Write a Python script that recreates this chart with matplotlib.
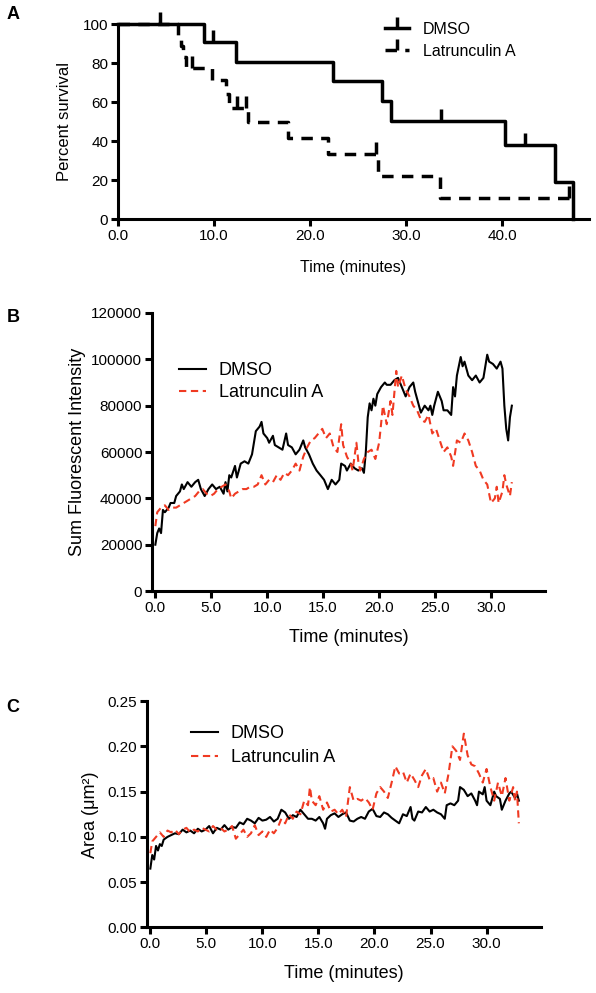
import numpy as np
import matplotlib
matplotlib.use('Agg')
import matplotlib.pyplot as plt
from matplotlib.path import Path
from matplotlib.lines import Line2D

plt.rcParams['font.family'] = ['Liberation Sans', 'DejaVu Sans']

# ---- panel A: Kaplan-Meier steps
km_dmso_t = [0, 9.0, 12.3, 22.4, 27.5, 28.4, 40.3, 45.5, 47.4]
km_dmso_s = [100, 90.9, 80.8, 70.7, 60.6, 50.5, 37.9, 18.9, 0]
cens_dmso_t = [4.4, 9.9, 33.6, 42.4]
cens_dmso_s = [100, 90.9, 50.5, 37.9]

km_lat_t = [0, 6.28, 6.56, 6.77, 7.05, 9.76, 11.2, 11.56, 13.57, 17.74, 21.9, 27.1, 33.5, 46.9]
km_lat_s = [100, 94.4, 88.9, 83.3, 77.8, 71.4, 64.3, 57.1, 50.0, 41.7, 33.3, 22.2, 11.1, 11.1]
cens_lat_t = [7.7, 12.36, 13.3, 26.9, 46.9]
cens_lat_s = [77.8, 57.1, 57.1, 33.3, 11.1]

# ---- panel B: sum fluorescent intensity
b_dmso_t = [0.0, 0.17, 0.34, 0.51, 0.68, 0.85, 1.19, 1.36, 1.69, 1.86, 2.2, 2.37, 2.54, 2.88,
            3.22, 3.56, 3.83, 4.07, 4.41, 4.75, 5.08, 5.42, 5.76, 6.1, 6.27, 6.44, 6.61, 6.78,
            7.12, 7.29, 7.46, 7.63, 7.97, 8.31, 8.64, 8.98, 9.32, 9.49, 9.66, 10.0, 10.17, 10.51,
            10.68, 11.02, 11.36, 11.69, 11.86, 12.2, 12.54, 12.88, 13.22, 13.39, 13.73, 14.07,
            14.41, 14.75, 15.08, 15.42, 15.76, 16.1, 16.44, 16.61, 16.95, 17.12, 17.46, 17.8,
            18.14, 18.47, 18.64, 18.81, 18.98, 19.15, 19.32, 19.49, 19.66, 19.83, 20.17, 20.51,
            20.68, 21.02, 21.36, 21.69, 21.86, 22.2, 22.37, 22.71, 23.05, 23.22, 23.56, 23.73,
            24.07, 24.41, 24.58, 24.75, 24.92, 25.25, 25.59, 25.76, 26.1, 26.44, 26.61, 26.78,
            26.95, 27.29, 27.46, 27.63, 27.97, 28.31, 28.64, 28.98, 29.32, 29.49, 29.66, 29.83,
            30.17, 30.51, 30.85, 31.02, 31.19, 31.36, 31.53, 31.69, 31.86]
b_dmso_v = [20000, 25000, 27000, 25000, 35000, 34000, 36000, 38000, 38000, 41000, 43000, 46000,
            44000, 47000, 45000, 47000, 48000, 44000, 41000, 44000, 46000, 44000, 45000, 42000,
            47000, 43000, 50000, 49000, 54000, 49000, 52000, 55000, 56000, 55000, 59000, 69000,
            71000, 73000, 68000, 66000, 64000, 67000, 63000, 62000, 61000, 68000, 63000, 62000,
            59000, 61000, 65000, 62000, 59000, 55000, 52000, 50000, 48000, 44000, 48000, 46000,
            48000, 55000, 54000, 52000, 55000, 53000, 52000, 53000, 51000, 60000, 75000, 81000,
            78000, 83000, 80000, 85000, 88000, 90000, 89000, 89000, 91000, 92000, 90000, 86000,
            84000, 88000, 90000, 86000, 80000, 77000, 80000, 78000, 80000, 76000, 80000, 86000,
            82000, 78000, 78000, 76000, 88000, 84000, 93000, 101000, 97000, 99000, 93000, 91000,
            93000, 90000, 92000, 97000, 102000, 99000, 98000, 96000, 99000, 96000, 80000, 70000,
            65000, 75000, 80000]

b_lat_t = [0.0, 0.17, 0.51, 0.85, 1.19, 1.53, 1.86, 2.2, 2.54, 2.88, 3.22, 3.56, 3.9, 4.24,
           4.58, 4.92, 5.25, 5.59, 5.93, 6.27, 6.61, 6.78, 7.12, 7.46, 7.8, 8.14, 8.47, 8.81,
           9.15, 9.49, 9.83, 10.17, 10.51, 10.85, 11.19, 11.53, 11.86, 12.2, 12.54, 12.88,
           13.22, 13.56, 13.9, 14.24, 14.58, 14.92, 15.25, 15.59, 15.93, 16.27, 16.61, 16.78,
           17.12, 17.46, 17.63, 17.97, 18.14, 18.31, 18.64, 18.98, 19.32, 19.66, 20.0, 20.34,
           20.68, 21.02, 21.19, 21.53, 21.69, 22.03, 22.37, 22.71, 23.05, 23.39, 23.73, 24.07,
           24.41, 24.75, 25.08, 25.42, 25.76, 26.1, 26.44, 26.61, 26.95, 27.29, 27.63, 27.97,
           28.31, 28.64, 28.98, 29.32, 29.66, 30.0, 30.34, 30.51, 30.68, 31.02, 31.19, 31.36,
           31.69, 31.86]
b_lat_v = [28000, 34000, 36000, 37000, 35000, 36000, 36000, 37000, 38000, 39000, 40000, 41000,
           43000, 44000, 42000, 41000, 42000, 44000, 45000, 46000, 43000, 40000, 42000, 43000,
           44000, 44000, 45000, 45000, 46000, 50000, 46000, 48000, 47000, 50000, 48000, 51000,
           50000, 52000, 55000, 52000, 58000, 62000, 65000, 66000, 68000, 70000, 66000, 68000,
           62000, 60000, 72000, 63000, 58000, 55000, 52000, 64000, 56000, 52000, 57000, 60000,
           61000, 57000, 64000, 80000, 72000, 82000, 76000, 95000, 88000, 93000, 87000, 84000,
           80000, 78000, 74000, 73000, 76000, 68000, 70000, 65000, 60000, 62000, 58000, 54000,
           65000, 64000, 68000, 65000, 60000, 54000, 52000, 48000, 46000, 38000, 40000, 45000,
           38000, 43000, 50000, 46000, 41000, 47000]

# ---- panel C: area
c_dmso_t = [0.0, 0.17, 0.34, 0.51, 0.68, 0.85, 1.02, 1.19, 1.53, 1.86, 2.2, 2.54, 2.88, 3.22,
            3.56, 3.9, 4.24, 4.58, 4.92, 5.25, 5.59, 5.93, 6.27, 6.61, 6.95, 7.29, 7.63, 7.97,
            8.31, 8.64, 8.98, 9.32, 9.66, 10.0, 10.34, 10.68, 11.02, 11.36, 11.69, 12.03, 12.37,
            12.71, 13.05, 13.39, 13.73, 14.07, 14.41, 14.75, 15.08, 15.42, 15.59, 15.76, 16.1,
            16.44, 16.78, 17.12, 17.46, 17.8, 18.14, 18.47, 18.81, 19.15, 19.49, 19.83, 20.17,
            20.51, 20.85, 21.19, 21.53, 21.86, 22.2, 22.54, 22.88, 23.22, 23.39, 23.56, 23.9,
            24.24, 24.58, 24.92, 25.25, 25.59, 25.93, 26.27, 26.44, 26.78, 27.12, 27.46, 27.63,
            27.97, 28.31, 28.64, 28.98, 29.15, 29.32, 29.66, 29.83, 30.0, 30.34, 30.68, 30.85,
            31.19, 31.36, 31.69, 32.03, 32.2, 32.54, 32.71, 32.88]
c_dmso_v = [0.065, 0.080, 0.075, 0.090, 0.085, 0.092, 0.090, 0.097, 0.100, 0.102, 0.104, 0.103,
            0.108, 0.105, 0.107, 0.104, 0.109, 0.106, 0.108, 0.112, 0.104, 0.110, 0.108, 0.113,
            0.108, 0.111, 0.110, 0.116, 0.114, 0.120, 0.118, 0.115, 0.121, 0.118, 0.119, 0.122,
            0.117, 0.120, 0.130, 0.127, 0.120, 0.124, 0.122, 0.130, 0.125, 0.120, 0.120, 0.118,
            0.122, 0.115, 0.109, 0.120, 0.124, 0.126, 0.122, 0.125, 0.127, 0.118, 0.117, 0.120,
            0.122, 0.120, 0.128, 0.131, 0.123, 0.122, 0.127, 0.125, 0.121, 0.118, 0.115, 0.125,
            0.123, 0.133, 0.120, 0.118, 0.128, 0.127, 0.133, 0.128, 0.130, 0.127, 0.125, 0.120,
            0.135, 0.137, 0.135, 0.140, 0.155, 0.152, 0.145, 0.148, 0.140, 0.135, 0.150, 0.147,
            0.155, 0.140, 0.135, 0.150, 0.145, 0.142, 0.130, 0.140, 0.148, 0.150, 0.143, 0.148,
            0.140]

c_lat_t = [0.0, 0.17, 0.51, 0.85, 1.19, 1.53, 1.86, 2.2, 2.54, 2.88, 3.22, 3.56, 3.9, 4.24,
           4.58, 4.92, 5.25, 5.59, 5.93, 6.27, 6.61, 6.95, 7.29, 7.63, 7.97, 8.31, 8.64, 8.98,
           9.32, 9.66, 10.0, 10.34, 10.68, 11.02, 11.36, 11.69, 12.03, 12.37, 12.71, 13.05,
           13.39, 13.73, 14.07, 14.24, 14.41, 14.75, 15.08, 15.42, 15.76, 16.1, 16.44, 16.78,
           17.12, 17.46, 17.8, 18.14, 18.47, 18.81, 19.15, 19.49, 19.83, 20.17, 20.51, 20.85,
           21.19, 21.53, 21.86, 22.2, 22.54, 22.88, 23.22, 23.56, 23.9, 24.24, 24.58, 24.92,
           25.25, 25.59, 25.93, 26.27, 26.61, 26.95, 27.29, 27.63, 27.97, 28.31, 28.64, 28.98,
           29.32, 29.66, 30.0, 30.34, 30.68, 31.02, 31.36, 31.69, 32.03, 32.37, 32.54, 32.71,
           32.88]
c_lat_v = [0.082, 0.095, 0.100, 0.105, 0.100, 0.107, 0.105, 0.108, 0.103, 0.108, 0.110, 0.105,
           0.108, 0.106, 0.110, 0.108, 0.106, 0.112, 0.108, 0.110, 0.106, 0.108, 0.112, 0.098,
           0.103, 0.108, 0.100, 0.104, 0.113, 0.102, 0.106, 0.100, 0.108, 0.104, 0.110, 0.120,
           0.115, 0.125, 0.120, 0.128, 0.125, 0.140, 0.135, 0.155, 0.140, 0.135, 0.145, 0.130,
           0.138, 0.128, 0.130, 0.125, 0.130, 0.122, 0.155, 0.140, 0.142, 0.140, 0.143, 0.138,
           0.130, 0.148, 0.155, 0.150, 0.143, 0.160, 0.178, 0.170, 0.172, 0.160, 0.170, 0.163,
           0.155, 0.168, 0.175, 0.163, 0.165, 0.150, 0.160, 0.148, 0.170, 0.200, 0.195, 0.185,
           0.214, 0.190, 0.180, 0.178, 0.170, 0.160, 0.175, 0.155, 0.140, 0.160, 0.145, 0.165,
           0.140, 0.155, 0.140, 0.150, 0.115]

red = '#f03a22'
tick_mark = Path([(0, 0), (0, 1)], [Path.MOVETO, Path.LINETO])

fig = plt.figure(figsize=(5.96, 9.93), dpi=100)


def style_axes(ax, lw):
    for s in ['top', 'right']:
        ax.spines[s].set_visible(False)
    for s in ['left', 'bottom']:
        ax.spines[s].set_linewidth(lw)
    ax.tick_params(direction='out', length=5, width=lw, labelsize=11, pad=2)


# ---------- A
axA = fig.add_axes([0.198, 0.7792, 0.790, 0.1964])
axA.step(km_dmso_t, km_dmso_s, where='post', color='k', lw=2.5, clip_on=False)
axA.step(km_lat_t, km_lat_s, where='post', color='k', lw=2.5, dashes=(3.3, 2.4), clip_on=False)
axA.plot(cens_dmso_t, cens_dmso_s, ls='none', marker=tick_mark, ms=18, mew=2.5, color='k', clip_on=False)
axA.plot(cens_lat_t, cens_lat_s, ls='none', marker=tick_mark, ms=18, mew=2.5, color='k', clip_on=False)
axA.set_xlim(0, 49)
axA.set_ylim(0, 100)
axA.set_xticks([0, 10, 20, 30, 40])
axA.set_xticklabels(['0.0', '10.0', '20.0', '30.0', '40.0'])
axA.set_yticks([0, 20, 40, 60, 80, 100])
style_axes(axA, 2.2)
axA.set_xlabel('Time (minutes)', fontsize=11.5, labelpad=12)
axA.set_ylabel('Percent survival', fontsize=12, labelpad=8)
hA = [Line2D([], [], color='k', lw=2.5, marker=tick_mark, ms=16, mew=2.5),
      Line2D([], [], color='k', lw=2.5, dashes=(3.3, 2.4), marker=tick_mark, ms=16, mew=2.5)]
fig.legend(hA, ['DMSO', 'Latrunculin A'], loc='upper left', bbox_to_anchor=(0.632, 0.986),
           frameon=False, fontsize=11.5, handlelength=1.5, handletextpad=0.9,
           borderpad=0, labelspacing=0.45, numpoints=1)

# ---------- B
axB = fig.add_axes([0.255, 0.4048, 0.659, 0.28])
axB.plot(b_dmso_t, b_dmso_v, color='k', lw=1.5, label='DMSO')
axB.plot(b_lat_t, b_lat_v, color=red, lw=1.5, dashes=(3.5, 2.2), label='Latrunculin A')
axB.set_xlim(-0.3, 34.8)
axB.set_ylim(0, 120000)
axB.set_xticks([0, 5, 10, 15, 20, 25, 30])
axB.set_xticklabels(['0.0', '5.0', '10.0', '15.0', '20.0', '25.0', '30.0'])
axB.set_yticks([0, 20000, 40000, 60000, 80000, 100000, 120000])
axB.set_yticklabels(['0', '20000', '40000', '60000', '80000', '100000', '120000'])
style_axes(axB, 2.2)
axB.set_xlabel('Time (minutes)', fontsize=13, labelpad=10)
axB.set_ylabel('Sum Fluorescent Intensity', fontsize=13, labelpad=4)
axB.legend(loc='upper left', bbox_to_anchor=(0.285, 0.6445), bbox_transform=fig.transFigure,
           frameon=False, fontsize=13, handlelength=1.5, handletextpad=0.7,
           borderpad=0, labelspacing=0.3)

# ---------- C
axC = fig.add_axes([0.2466, 0.066, 0.661, 0.228])
axC.plot(c_dmso_t, c_dmso_v, color='k', lw=1.5, label='DMSO')
axC.plot(c_lat_t, c_lat_v, color=red, lw=1.5, dashes=(3.5, 2.2), label='Latrunculin A')
axC.set_xlim(-0.3, 34.85)
axC.set_ylim(0, 0.25)
axC.set_xticks([0, 5, 10, 15, 20, 25, 30])
axC.set_xticklabels(['0.0', '5.0', '10.0', '15.0', '20.0', '25.0', '30.0'])
axC.set_yticks([0, 0.05, 0.10, 0.15, 0.20, 0.25])
axC.set_yticklabels(['0.00', '0.05', '0.10', '0.15', '0.20', '0.25'])
style_axes(axC, 2.2)
axC.set_xlabel('Time (minutes)', fontsize=13, labelpad=10)
axC.set_ylabel('Area (\u03bcm\u00b2)', fontsize=13, labelpad=6)
axC.legend(loc='upper left', bbox_to_anchor=(0.305, 0.279), bbox_transform=fig.transFigure,
           frameon=False, fontsize=13, handlelength=1.5, handletextpad=0.7,
           borderpad=0, labelspacing=0.4)

fig.text(0.022, 0.985, 'A', fontsize=13, fontweight='bold', va='center', ha='center')
fig.text(0.022, 0.680, 'B', fontsize=13, fontweight='bold', va='center', ha='center')
fig.text(0.022, 0.288, 'C', fontsize=13, fontweight='bold', va='center', ha='center')

fig.savefig('out.png', dpi=100)
